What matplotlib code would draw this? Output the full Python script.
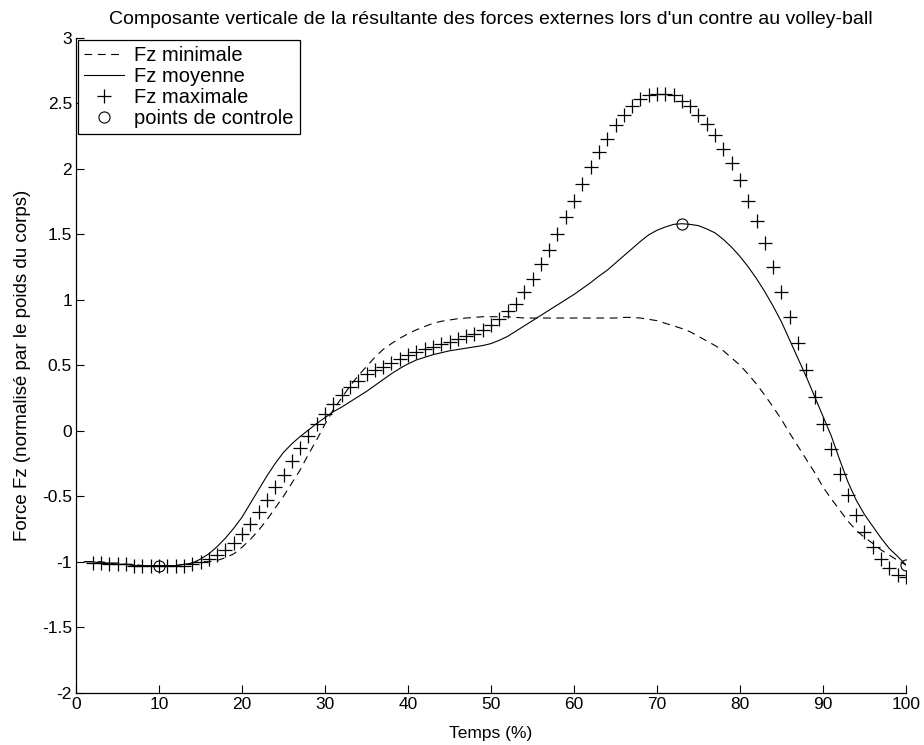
import numpy as np
import matplotlib
matplotlib.use("Agg")
import matplotlib.pyplot as plt

plt.rcParams['font.family'] = ['Liberation Sans', 'DejaVu Sans']

# ---- data ----
t_line = list(range(1, 101))
fz_moyenne = [
    -1.00, -1.00, -1.01, -1.01, -1.02, -1.02, -1.03, -1.03, -1.03, -1.03,
    -1.03, -1.03, -1.02, -1.01, -0.98, -0.94, -0.885, -0.82, -0.745, -0.66,
    -0.555, -0.45, -0.345, -0.25, -0.165, -0.10, -0.045, 0.005, 0.055, 0.10,
    0.145, 0.18, 0.22, 0.26, 0.30, 0.345, 0.39, 0.435, 0.475, 0.51,
    0.54, 0.56, 0.58, 0.595, 0.61, 0.62, 0.63, 0.64, 0.65, 0.665,
    0.69, 0.72, 0.76, 0.80, 0.84, 0.88, 0.92, 0.96, 1.00, 1.04,
    1.085, 1.13, 1.18, 1.225, 1.28, 1.335, 1.39, 1.445, 1.495, 1.53,
    1.555, 1.575, 1.58, 1.575, 1.565, 1.54, 1.51, 1.46, 1.40, 1.33,
    1.25, 1.16, 1.06, 0.95, 0.83, 0.69, 0.55, 0.41, 0.26, 0.11,
    -0.04, -0.22, -0.39, -0.53, -0.64, -0.73, -0.82, -0.90, -0.96, -1.025,
]
fz_minimale = [
    -1.00, -1.00, -1.00, -1.01, -1.01, -1.02, -1.02, -1.03, -1.03, -1.03,
    -1.03, -1.03, -1.02, -1.01, -1.00, -1.00, -0.99, -0.97, -0.94, -0.89,
    -0.83, -0.76, -0.68, -0.59, -0.50, -0.40, -0.30, -0.18, -0.07, 0.05,
    0.16, 0.25, 0.34, 0.42, 0.49, 0.56, 0.62, 0.665, 0.705, 0.74,
    0.77, 0.795, 0.82, 0.835, 0.845, 0.855, 0.86, 0.865, 0.87, 0.87,
    0.87, 0.87, 0.865, 0.86, 0.86, 0.86, 0.86, 0.86, 0.86, 0.86,
    0.86, 0.86, 0.86, 0.86, 0.86, 0.865, 0.865, 0.86, 0.85, 0.84,
    0.82, 0.80, 0.78, 0.755, 0.72, 0.685, 0.65, 0.61, 0.555, 0.50,
    0.43, 0.355, 0.27, 0.18, 0.085, -0.02, -0.12, -0.22, -0.32, -0.43,
    -0.52, -0.605, -0.69, -0.76, -0.815, -0.86, -0.91, -0.95, -0.99, -1.025,
]
t_max = list(range(2, 101))
fz_maximale = [
    -1.01, -1.01, -1.02, -1.02, -1.02, -1.03, -1.03, -1.03, -1.03,
    -1.03, -1.03, -1.03, -1.02, -1.00, -0.98, -0.95, -0.91, -0.86, -0.79,
    -0.71, -0.62, -0.53, -0.43, -0.34, -0.23, -0.13, -0.04, 0.05, 0.13,
    0.20, 0.27, 0.33, 0.38, 0.43, 0.46, 0.49, 0.52, 0.55, 0.58,
    0.60, 0.62, 0.64, 0.66, 0.68, 0.70, 0.72, 0.74, 0.77, 0.81,
    0.85, 0.91, 0.97, 1.06, 1.16, 1.27, 1.38, 1.50, 1.63, 1.75,
    1.88, 2.01, 2.13, 2.23, 2.33, 2.41, 2.48, 2.53, 2.56, 2.57,
    2.57, 2.56, 2.52, 2.48, 2.41, 2.34, 2.26, 2.15, 2.04, 1.91,
    1.75, 1.60, 1.43, 1.25, 1.06, 0.87, 0.67, 0.46, 0.26, 0.05,
    -0.14, -0.33, -0.49, -0.64, -0.77, -0.89, -0.98, -1.05, -1.10, -1.12,
]
t_ctrl = [10, 73, 100]
fz_ctrl = [-1.03, 1.58, -1.025]

title = "Composante verticale de la résultante des forces externes lors d'un contre au volley-ball"
xlabel = "Temps (%)"
ylabel = "Force Fz (normalisé par le poids du corps)"
xticks = list(range(0, 101, 10))
yticks = [-2, -1.5, -1, -0.5, 0, 0.5, 1, 1.5, 2, 2.5, 3]
ytick_labels = ["-2", "-1.5", "-1", "-0.5", "0", "0.5", "1", "1.5", "2", "2.5", "3"]

# ---- figure ----
fig = plt.figure(figsize=(9.24, 7.45), dpi=100)
ax = fig.add_axes([0.0823, 0.0702, 0.8982, 0.8792])

ax.plot(t_line, fz_minimale, color='black', lw=0.8, dashes=(7, 5), label='Fz minimale')
ax.plot(t_line, fz_moyenne, color='black', lw=0.8, label='Fz moyenne')
ax.plot(t_max, fz_maximale, ls='none', marker='+', ms=10, mew=0.9, color='black', label='Fz maximale')
ax.plot(t_ctrl, fz_ctrl, ls='none', marker='o', ms=8, mfc='none', mec='black', mew=0.8, label='points de controle')

ax.set_xlim(0, 100)
ax.set_ylim(-2, 3)
ax.set_xticks(xticks)
ax.set_yticks(yticks)
ax.set_yticklabels(ytick_labels)
ax.spines['top'].set_visible(False)
ax.spines['right'].set_visible(False)
ax.spines['left'].set_linewidth(0.9)
ax.spines['bottom'].set_linewidth(0.9)
ax.tick_params(direction='in', length=6, width=0.8, labelsize=12.5, pad=3)

ax.set_title(title, fontsize=14, pad=10)
ax.set_xlabel(xlabel, fontsize=12.5, labelpad=10)
ax.set_ylabel(ylabel, fontsize=13.5, labelpad=8)

leg = ax.legend(loc='upper left', bbox_to_anchor=(0.0, 1.0), fontsize=14.5, frameon=True,
                fancybox=False, framealpha=1, edgecolor='black', borderaxespad=0.1,
                handlelength=2.0, handletextpad=0.5, labelspacing=0.1, borderpad=0.3)
leg.get_frame().set_linewidth(0.9)

fig.savefig('out.png', dpi=100)
